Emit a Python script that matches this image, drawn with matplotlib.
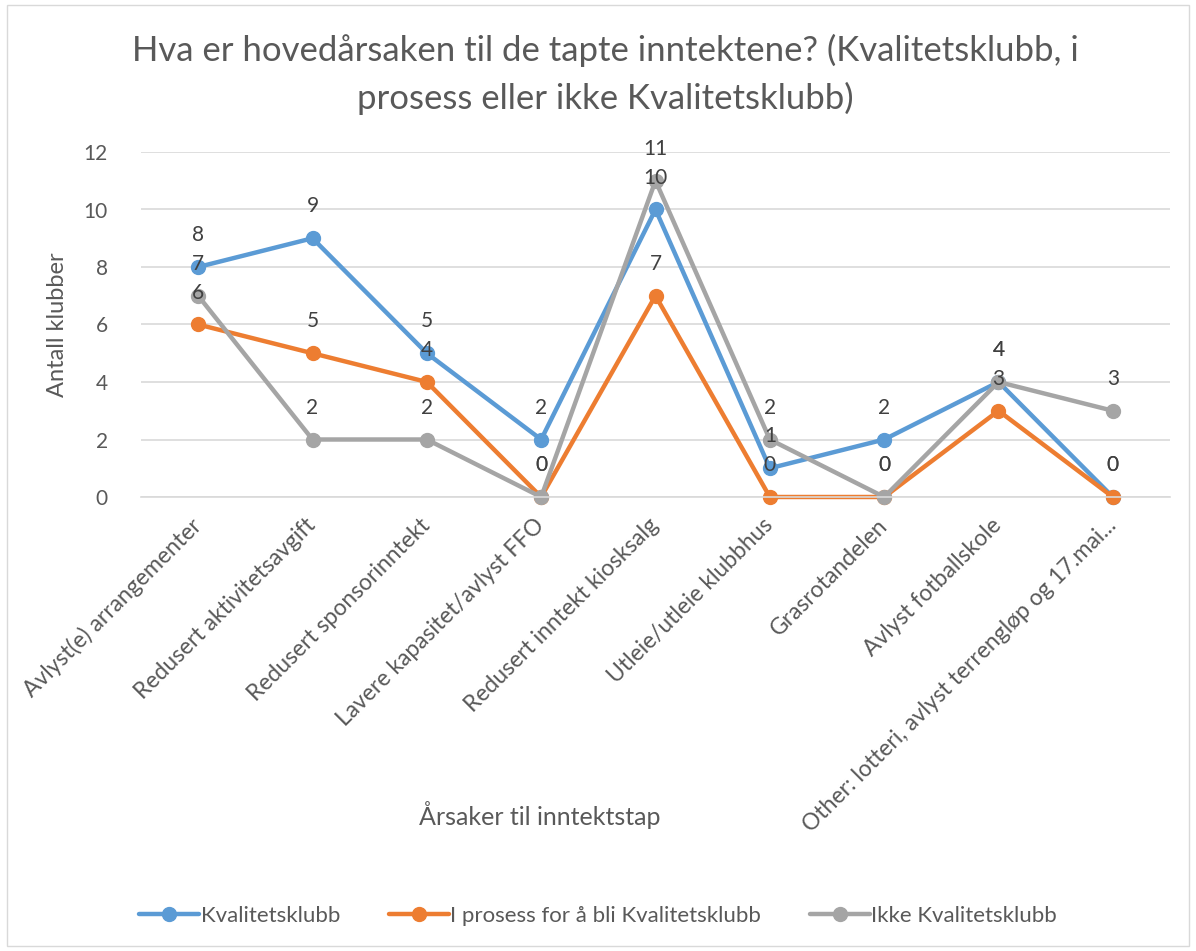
import matplotlib
matplotlib.use("Agg")
import matplotlib.pyplot as plt
from matplotlib.patches import Rectangle

plt.rcParams['font.family'] = ['Lato', 'DejaVu Sans']

categories = [
    "Avlyst(e) arrangementer",
    "Redusert aktivitetsavgift",
    "Redusert sponsorinntekt",
    "Lavere kapasitet/avlyst FFO",
    "Redusert inntekt kiosksalg",
    "Utleie/utleie klubbhus",
    "Grasrotandelen",
    "Avlyst fotballskole",
    "Other: lotteri, avlyst terrengløp og 17.mai...",
]
series_names = ["Kvalitetsklubb", "I prosess for å bli Kvalitetsklubb", "Ikke Kvalitetsklubb"]
kvalitetsklubb = [8, 9, 5, 2, 10, 1, 2, 4, 0]
i_prosess = [6, 5, 4, 0, 7, 0, 0, 3, 0]
ikke = [7, 2, 2, 0, 11, 2, 0, 4, 3]
colors = ["#5B9BD5", "#ED7D31", "#A5A5A5"]
yticks = [0, 2, 4, 6, 8, 10, 12]

W, H = 1196, 951
fig = plt.figure(figsize=(W / 100, H / 100), dpi=100)
fig.patches.append(Rectangle((7 / W, 5 / H), (1189 - 7) / W, (946 - 5) / H,
                             transform=fig.transFigure, fill=False,
                             edgecolor="#D9D9D9", linewidth=1))

left, right, top, bottom = 141, 1170, 152, 497
ax = fig.add_axes([left / W, 1 - bottom / H, (right - left) / W, (bottom - top) / H])

text_col = "#595959"
x = list(range(len(categories)))
all_series = [kvalitetsklubb, i_prosess, ikke]
for vals, name, c in zip(all_series, series_names, colors):
    ax.plot(x, vals, color=c, linewidth=3.2, marker="o", markersize=10,
            label=name, clip_on=False, solid_capstyle="round")
for vals in all_series:
    for xi, v in zip(x, vals):
        ax.annotate(str(v), (xi, v), xytext=(0, 23), textcoords="offset points",
                    ha="center", va="center", fontsize=15, color="#404040", zorder=10)

ax.set_xlim(-0.5, len(categories) - 0.5)
ax.set_ylim(0, 12)
ax.set_yticks(yticks)
ax.set_yticklabels([str(t) for t in yticks], fontsize=15, color=text_col)
ax.grid(axis="y", color="#D9D9D9", linewidth=1.2)
ax.set_axisbelow(True)
for s in ["top", "right", "left"]:
    ax.spines[s].set_visible(False)
ax.spines["bottom"].set_color("#D9D9D9")
ax.spines["bottom"].set_linewidth(1.2)
ax.tick_params(axis="both", length=0)
ax.tick_params(axis="y", pad=24)
ax.set_xticks(x)
ax.set_xticklabels(categories, rotation=45, ha="right", va="center",
                   rotation_mode="anchor", fontsize=16.5, color=text_col)
ax.tick_params(axis="x", pad=18)

fig.text(0.5 * (137 + 1073) / W, 1 - 50 / H,
         "Hva er hovedårsaken til de tapte inntektene? (Kvalitetsklubb, i",
         ha="center", va="center", fontsize=25, color=text_col)
fig.text(0.5 * (137 + 1073) / W, 1 - 98 / H, "prosess eller ikke Kvalitetsklubb)",
         ha="center", va="center", fontsize=25, color=text_col)

fig.text(58 / W, 1 - 325 / H, "Antall klubber", rotation=90, ha="center", va="center",
         fontsize=17, color=text_col)
fig.text(540 / W, 1 - 815 / H, "Årsaker til inntektstap", ha="center", va="center",
         fontsize=18, color=text_col)

leg = fig.legend(loc="center", bbox_to_anchor=(0.5, 1 - 916 / H), ncol=3, frameon=False,
                 fontsize=16, handlelength=2.7, handletextpad=0.05, columnspacing=2.2)
for t in leg.get_texts():
    t.set_color(text_col)

fig.savefig("out.png", dpi=100)
